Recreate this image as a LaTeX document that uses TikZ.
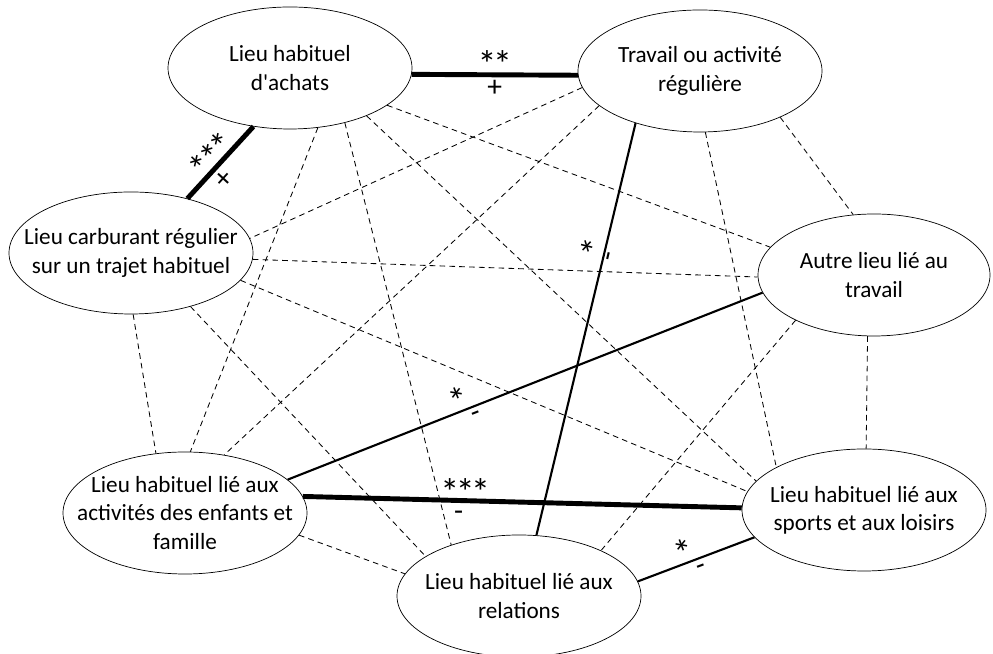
\documentclass[tikz,border=0pt]{standalone}
\usepackage{fontspec}
\setmainfont{Carlito}
\usetikzlibrary{shapes.geometric}
\begin{document}
\begin{tikzpicture}[line join=round, line cap=butt,
	lieu/.style={draw, ellipse, minimum width=6.1cm, minimum height=3.05cm, inner sep=0pt, line width=0.5pt},
	lieutxt/.style={align=center, font=\fontsize{16.5}{20}\selectfont},
	lien/.style={line width=0.6pt, dash pattern=on 4pt off 3pt},
	fort/.style={line width=1.5pt},
	tresfort/.style={line width=3.5pt},
	sig/.style={font=\fontsize{21}{21}\selectfont, inner sep=1pt},
	etoile/.style={font=\fontsize{27}{27}\selectfont, inner sep=0pt}]
	\useasboundingbox (0,0) rectangle (24.825,16.35);
	% lieux
	\node[lieu] (A) at (7.25,14.65) {};
	\node[lieu] (T) at (17.5,14.575) {};
	\node[lieu] (C) at (3.275,10.025) {};
	\node[lieu, minimum width=5.8cm] (W) at (21.85,9.475) {};
	\node[lieu] (E) at (4.625,3.525) {};
	\node[lieu] (S) at (21.6,3.6) {};
	\node[lieu] (R) at (12.975,1.45) {};
	\node[lieutxt] (At) at (A) {Lieu habituel\\d\textquotesingle achats};
	\node[lieutxt] (Tt) at (T) {Travail ou activité\\régulière};
	\node[lieutxt] (Ct) at (C) {Lieu carburant régulier\\sur un trajet habituel};
	\node[lieutxt] (Wt) at (W) {Autre lieu lié au\\travail};
	\node[lieutxt] (Et) at (E) {Lieu habituel lié aux\\activités des enfants et\\famille};
	\node[lieutxt] (St) at (S) {Lieu habituel lié aux\\sports et aux loisirs};
	\node[lieutxt] (Rt) at (R) {Lieu habituel lié aux\\relations};
	% liens non significatifs
	\draw[lien] (A.-21.2) -- (W.165.3);
	\draw[lien] (A.-32) -- (S.165);
	\draw[lien] (A.-45.5) -- (R.143.9);
	\draw[lien] (A.-65.4) -- (E.85);
	\draw[lien] (T.188) -- (C.7);
	\draw[lien] (T.199.3) -- (E.56.8);
	\draw[lien] (T.-85) -- (S.154.7);
	\draw[lien] (T.-30) -- (W.109.3);
	\draw[lien] (C.-3) -- (W.181);
	\draw[lien] (C.-14) -- (S.171.6);
	\draw[lien] (C.-42.5) -- (R.157.9);
	\draw[lien] (C.-88) -- (E.116.6);
	\draw[lien] (W.-96) -- (S.88);
	\draw[lien] (W.210.3) -- (R.29.2);
	\draw[lien] (E.-11.8) -- (R.169);
	% liens significatifs
	\draw[tresfort] (A.-3) -- (T.-178) node[etoile, midway, above=-4pt] {*\kern-2.5pt*} node[sig, midway, below=1pt] {+};
	\draw[tresfort] (C.44) -- (A.-122.5) node[etoile, pos=0.5, sloped, above=-4pt] {*\kern-2.5pt*\kern-2.5pt*} node[sig, pos=0.4, sloped, below=2pt] {+};
	\draw[tresfort] (E.8) -- (S.179) node[etoile, pos=0.37, above=-5pt] {*\kern-2.5pt*\kern-2.5pt*} node[sig, pos=0.355, below=5pt] {-};
	\draw[fort] (E.18.4) -- (W.189.7) node[etoile, pos=0.37, sloped, above=-3pt] {*} node[sig, pos=0.39, sloped, below=2pt] {-};
	\draw[fort] (T.219) -- (R.74.8) node[etoile, pos=0.31, sloped, above=-3pt] {*} node[sig, pos=0.32, sloped, below=1pt] {-};
	\draw[fort] (R.7.2) -- (S.194) node[etoile, pos=0.43, sloped, above=-3pt] {*} node[sig, pos=0.52, sloped, below=3pt] {-};
\end{tikzpicture}
\end{document}
